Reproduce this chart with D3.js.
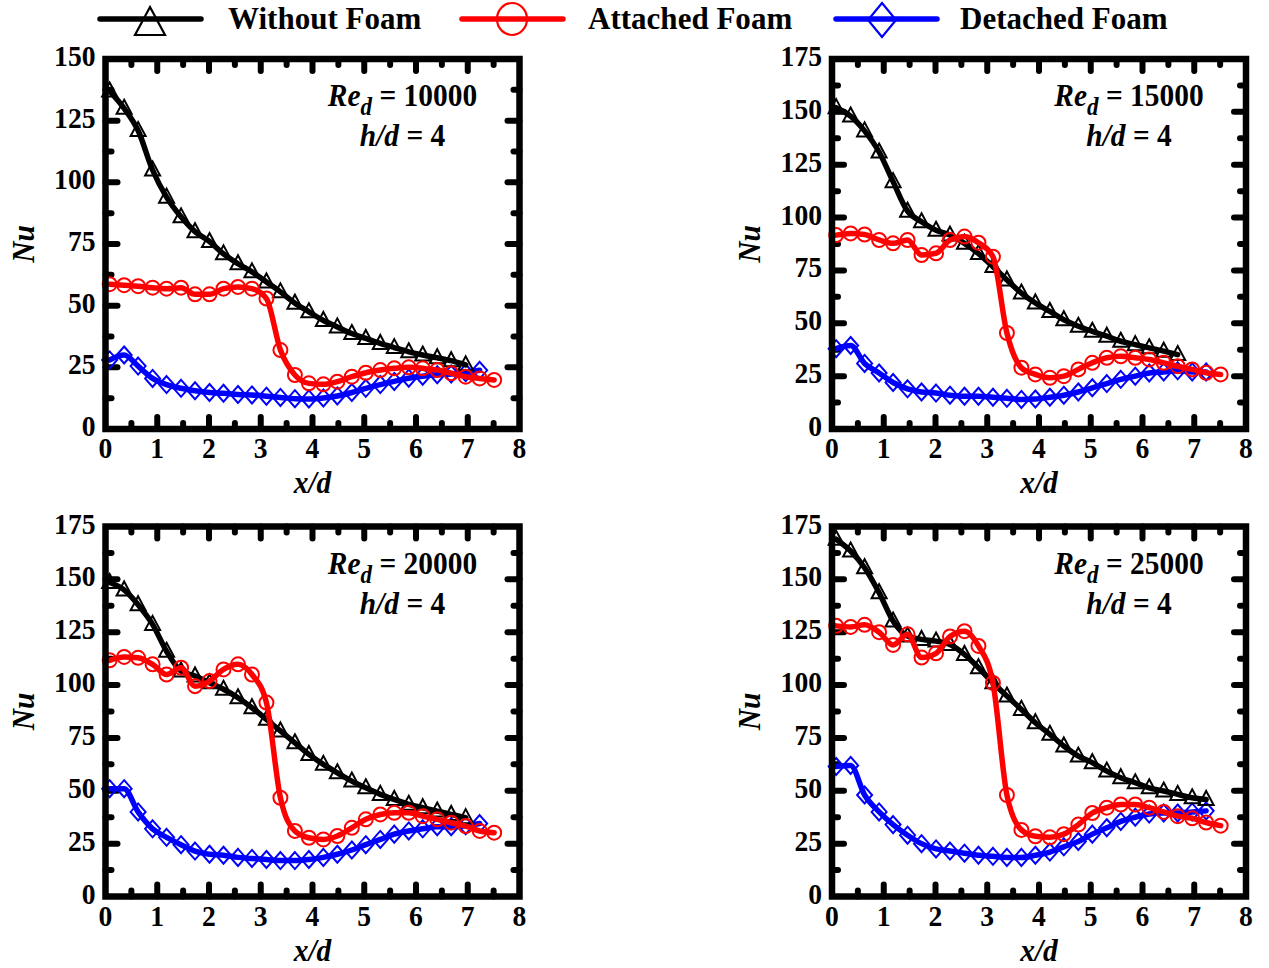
<!DOCTYPE html>
<html><head><meta charset="utf-8">
<script src="https://cdn.jsdelivr.net/npm/d3@7"></script>
<style>
body{margin:0;background:#fff}
svg{display:block}
text{font-family:"Liberation Serif","Times New Roman",serif;font-weight:bold;fill:#000}
</style>
</head><body>
<svg id="chart" width="1269" height="968"></svg>
<script>
// ---------------- data ----------------
const xPositions = [0.08, 0.36, 0.63, 0.91, 1.18, 1.46, 1.73, 2.01, 2.28, 2.56, 2.83, 3.11, 3.38, 3.66,
                    3.93, 4.21, 4.48, 4.76, 5.03, 5.31, 5.58, 5.86, 6.13, 6.41, 6.68, 6.96, 7.23, 7.51];
const reynoldsLabels = ["10000", "15000", "20000", "25000"];
const yMaxima = [150, 175, 175, 175];
const xTickValues = [0, 1, 2, 3, 4, 5, 6, 7, 8];
const seriesNames = ["Without Foam", "Attached Foam", "Detached Foam"];
const seriesColors = ["#000000", "#ff0000", "#0000ff"];
const seriesSymbols = ["triangle", "circle", "diamond"];

const without10000 = [137, 130, 121, 105, 94, 86, 80, 76, 71, 67, 63.7, 59.6, 55.6, 51, 47.5, 44, 41.4, 38.7, 36.7, 34.7, 33, 31.3, 30, 28.9, 27.7, 26];
const attached10000 = [58.7, 58.3, 57.9, 57.3, 56.9, 57.3, 54.6, 54.6, 56.9, 57.6, 56.9, 52.9, 32, 21.9, 18.5, 18.1, 19.2, 21.2, 22.8, 23.9, 24.6, 25, 24.6, 23.9, 22.6, 21.2, 20.5, 19.9];
const detached10000 = [28, 30, 25.5, 20.5, 18, 16.5, 15.5, 14.8, 14.5, 14, 13.8, 13.3, 12.8, 12.3, 12.2, 12.6, 13.4, 14.8, 16.5, 18, 19.3, 20.6, 21.4, 22, 22.3, 22.8, 23.8];

const without15000 = [152, 148, 141, 131, 117, 103, 98, 94, 91.7, 87.8, 83, 76.8, 70.5, 64.3, 59.6, 55.6, 51.7, 48.6, 46.2, 43.9, 41.5, 39.9, 38.4, 36.8, 35.2];
const attached15000 = [91.7, 92.5, 92, 89.4, 87.8, 89.4, 82.3, 83.1, 89.4, 91, 88.1, 81.5, 45.4, 29, 25.8, 24.2, 25, 28.2, 31.3, 33.7, 34.4, 33.7, 32.9, 31.3, 29.7, 28.2, 26.6, 25.8];
const detached15000 = [38, 39.5, 31, 26.5, 22, 19, 17.5, 17, 16, 15.5, 15.5, 15, 14.5, 14, 14.2, 15, 16, 17.5, 19.5, 21.5, 23.5, 25, 26.5, 27, 27.5, 27, 27];

const without20000 = [148.5, 145, 138, 128.7, 116, 106.6, 104.3, 101.1, 98, 94, 89.3, 83.8, 78.3, 72.7, 67.2, 62.5, 58.5, 54.6, 51.4, 48.3, 45.9, 43.6, 42, 40.4, 38.8, 37.3];
const attached20000 = [111.7, 113.3, 112.9, 109.8, 105, 108.2, 99.5, 101.9, 107.4, 109.8, 105, 91.7, 46.7, 31, 27.8, 27, 28.6, 32.5, 36.5, 38.8, 39.6, 39.6, 38, 36.5, 34.9, 33.3, 31, 30.2];
const detached20000 = [51, 51, 40, 32, 28, 24.5, 21.5, 20, 19.5, 18.5, 18, 17.5, 17, 17, 17.5, 18.5, 20, 22, 24.5, 27, 29.5, 31, 32, 33, 33, 33.5, 34.5];

const without25000 = [169, 163.4, 155.5, 143.7, 130.3, 123.2, 121.6, 120.8, 119.2, 114.5, 108.2, 101.1, 94.8, 88.5, 82.2, 76.7, 71.2, 66.4, 63.3, 59.3, 56.2, 53.8, 51.4, 49.9, 48.3, 46.7, 45.9];
const attached25000 = [128, 127.5, 128.5, 125, 119, 124, 113, 115, 123, 125.5, 118.5, 101, 48, 31.5, 28.5, 28, 29.5, 34, 39.5, 42, 43.5, 43.5, 42, 40, 38, 37, 35, 33.5];
const detached25000 = [61.5, 62, 48, 40, 34, 29, 25, 22.5, 21.5, 20.5, 19.5, 19, 18.5, 18.5, 19.5, 21, 23.5, 26, 29.5, 32.5, 35.5, 37.5, 39, 39.5, 39.5, 40, 40.5];

const panelSeries = [
  [without10000, attached10000, detached10000],
  [without15000, attached15000, detached15000],
  [without20000, attached20000, detached20000],
  [without25000, attached25000, detached25000]
];

// ---------------- layout ----------------
const svg = d3.select("#chart");
const W = 414, H = 370;
const panelPos = [[105.5, 59], [832, 59], [105.5, 526.5], [832, 526.5]];
const SX = 0.92; // horizontal condensing of the serif text, as in the reference

function addText(parent, x, y, size, anchor, rotate, sx) {
  const s = sx === undefined ? SX : sx;
  return parent.append("text")
    .attr("transform", `translate(${x},${y})` + (rotate ? ` rotate(${rotate})` : "") + ` scale(${s},1)`)
    .attr("font-size", size)
    .attr("text-anchor", anchor || "start");
}

function symbolPath(type) {
  if (type === "triangle") return "M0,-8.5L7.5,5.5L-7.5,5.5Z";
  if (type === "diamond") return "M0,-8.5L7.5,0L0,8.5L-7.5,0Z";
  return null;
}

// legend
const legendItems = [
  {x1: 100, x2: 201, mx: 150, tx: 228},
  {x1: 462, x2: 563, mx: 512, tx: 588},
  {x1: 836, x2: 937, mx: 882, tx: 960}
];
legendItems.forEach((li, i) => {
  const g = svg.append("g");
  g.append("line").attr("x1", li.x1).attr("x2", li.x2).attr("y1", 19).attr("y2", 19)
    .attr("stroke", seriesColors[i]).attr("stroke-width", 5.5).attr("stroke-linecap", "round");
  if (seriesSymbols[i] === "circle") {
    g.append("ellipse").attr("cx", li.mx).attr("cy", 19).attr("rx", 15).attr("ry", 16)
      .attr("fill", "none").attr("stroke", seriesColors[i]).attr("stroke-width", 2.2);
  } else if (seriesSymbols[i] === "triangle") {
    g.append("path").attr("d", "M0,-15L15,13L-15,13Z").attr("transform", `translate(${li.mx},22)`)
      .attr("fill", "none").attr("stroke", seriesColors[i]).attr("stroke-width", 2.2);
  } else {
    g.append("path").attr("d", "M0,-17L14,0L0,17L-14,0Z").attr("transform", `translate(${li.mx},20)`)
      .attr("fill", "none").attr("stroke", seriesColors[i]).attr("stroke-width", 2.2);
  }
  addText(g, li.tx, 29, 32, "start", 0, 0.97).text(seriesNames[i]);
});

panelSeries.forEach((series, p) => {
  const [left, top] = panelPos[p];
  const yMax = yMaxima[p];
  const x = d3.scaleLinear().domain([0, 8]).range([left, left + W]);
  const y = d3.scaleLinear().domain([0, yMax]).range([top + H, top]);
  const g = svg.append("g");

  // ticks (inward, all four sides)
  const tickG = g.append("g").attr("stroke", "#000").attr("stroke-width", 6).attr("stroke-linecap", "round");
  const xMajor = xTickValues.slice(1, -1);
  const xMinor = d3.range(0.5, 8, 1);
  const yMajor = d3.range(25, yMax, 25);
  const yMinor = d3.range(12.5, yMax, 25);
  const MJ = 12, MN = 6;
  xMajor.forEach(v => {
    tickG.append("line").attr("x1", x(v)).attr("x2", x(v)).attr("y1", top + H).attr("y2", top + H - MJ);
    tickG.append("line").attr("x1", x(v)).attr("x2", x(v)).attr("y1", top).attr("y2", top + MJ);
  });
  xMinor.forEach(v => {
    tickG.append("line").attr("x1", x(v)).attr("x2", x(v)).attr("y1", top + H).attr("y2", top + H - MN);
    tickG.append("line").attr("x1", x(v)).attr("x2", x(v)).attr("y1", top).attr("y2", top + MN);
  });
  yMajor.forEach(v => {
    tickG.append("line").attr("y1", y(v)).attr("y2", y(v)).attr("x1", left).attr("x2", left + MJ);
    tickG.append("line").attr("y1", y(v)).attr("y2", y(v)).attr("x1", left + W).attr("x2", left + W - MJ);
  });
  yMinor.forEach(v => {
    tickG.append("line").attr("y1", y(v)).attr("y2", y(v)).attr("x1", left).attr("x2", left + MN);
    tickG.append("line").attr("y1", y(v)).attr("y2", y(v)).attr("x1", left + W).attr("x2", left + W - MN);
  });

  // tick labels
  xTickValues.forEach(v => {
    addText(g, x(v), top + H + 29, 30, "middle").text(v);
  });
  d3.range(0, yMax + 1, 25).forEach(v => {
    addText(g, left - 10, y(v) + 7, 30, "end").text(v);
  });

  // axis titles
  addText(g, left - 72, top + H / 2, 32, "middle", -90).attr("font-style", "italic").text("Nu");
  addText(g, left + W / 2, top + H + 64, 32, "middle").attr("font-style", "italic").text("x/d");

  // annotation
  const ann = addText(g, left + 297, top + 47, 32, "middle");
  ann.append("tspan").attr("font-style", "italic").text("Re");
  ann.append("tspan").attr("font-style", "italic").attr("font-size", 25).attr("dy", 9).text("d");
  ann.append("tspan").attr("dy", -9).text(" = " + reynoldsLabels[p]);
  const ann2 = addText(g, left + 297, top + 87, 32, "middle");
  ann2.append("tspan").attr("font-style", "italic").text("h/d");
  ann2.append("tspan").text(" = 4");

  // data (draw order: detached, without, attached)
  const line = d3.line().x(d => x(d[0])).y(d => y(d[1])).curve(d3.curveMonotoneX);
  [2, 0, 1].forEach(si => {
    const vals = series[si];
    const pts = vals.map((v, i) => [xPositions[i], v]);
    const sg = g.append("g");
    sg.append("path").attr("d", line(pts)).attr("fill", "none").attr("stroke", seriesColors[si])
      .attr("stroke-width", 5.5).attr("stroke-linejoin", "round").attr("stroke-linecap", "round");
    pts.forEach(pt => {
      if (seriesSymbols[si] === "circle") {
        sg.append("circle").attr("cx", x(pt[0])).attr("cy", y(pt[1])).attr("r", 7)
          .attr("fill", "none").attr("stroke", seriesColors[si]).attr("stroke-width", 2);
      } else {
        sg.append("path").attr("d", symbolPath(seriesSymbols[si]))
          .attr("transform", `translate(${x(pt[0])},${y(pt[1])})`)
          .attr("fill", "none").attr("stroke", seriesColors[si]).attr("stroke-width", 2);
      }
    });
  });

  // frame
  g.append("rect").attr("x", left).attr("y", top).attr("width", W).attr("height", H)
    .attr("fill", "none").attr("stroke", "#000").attr("stroke-width", 6.5);
});
</script>
</body></html>
